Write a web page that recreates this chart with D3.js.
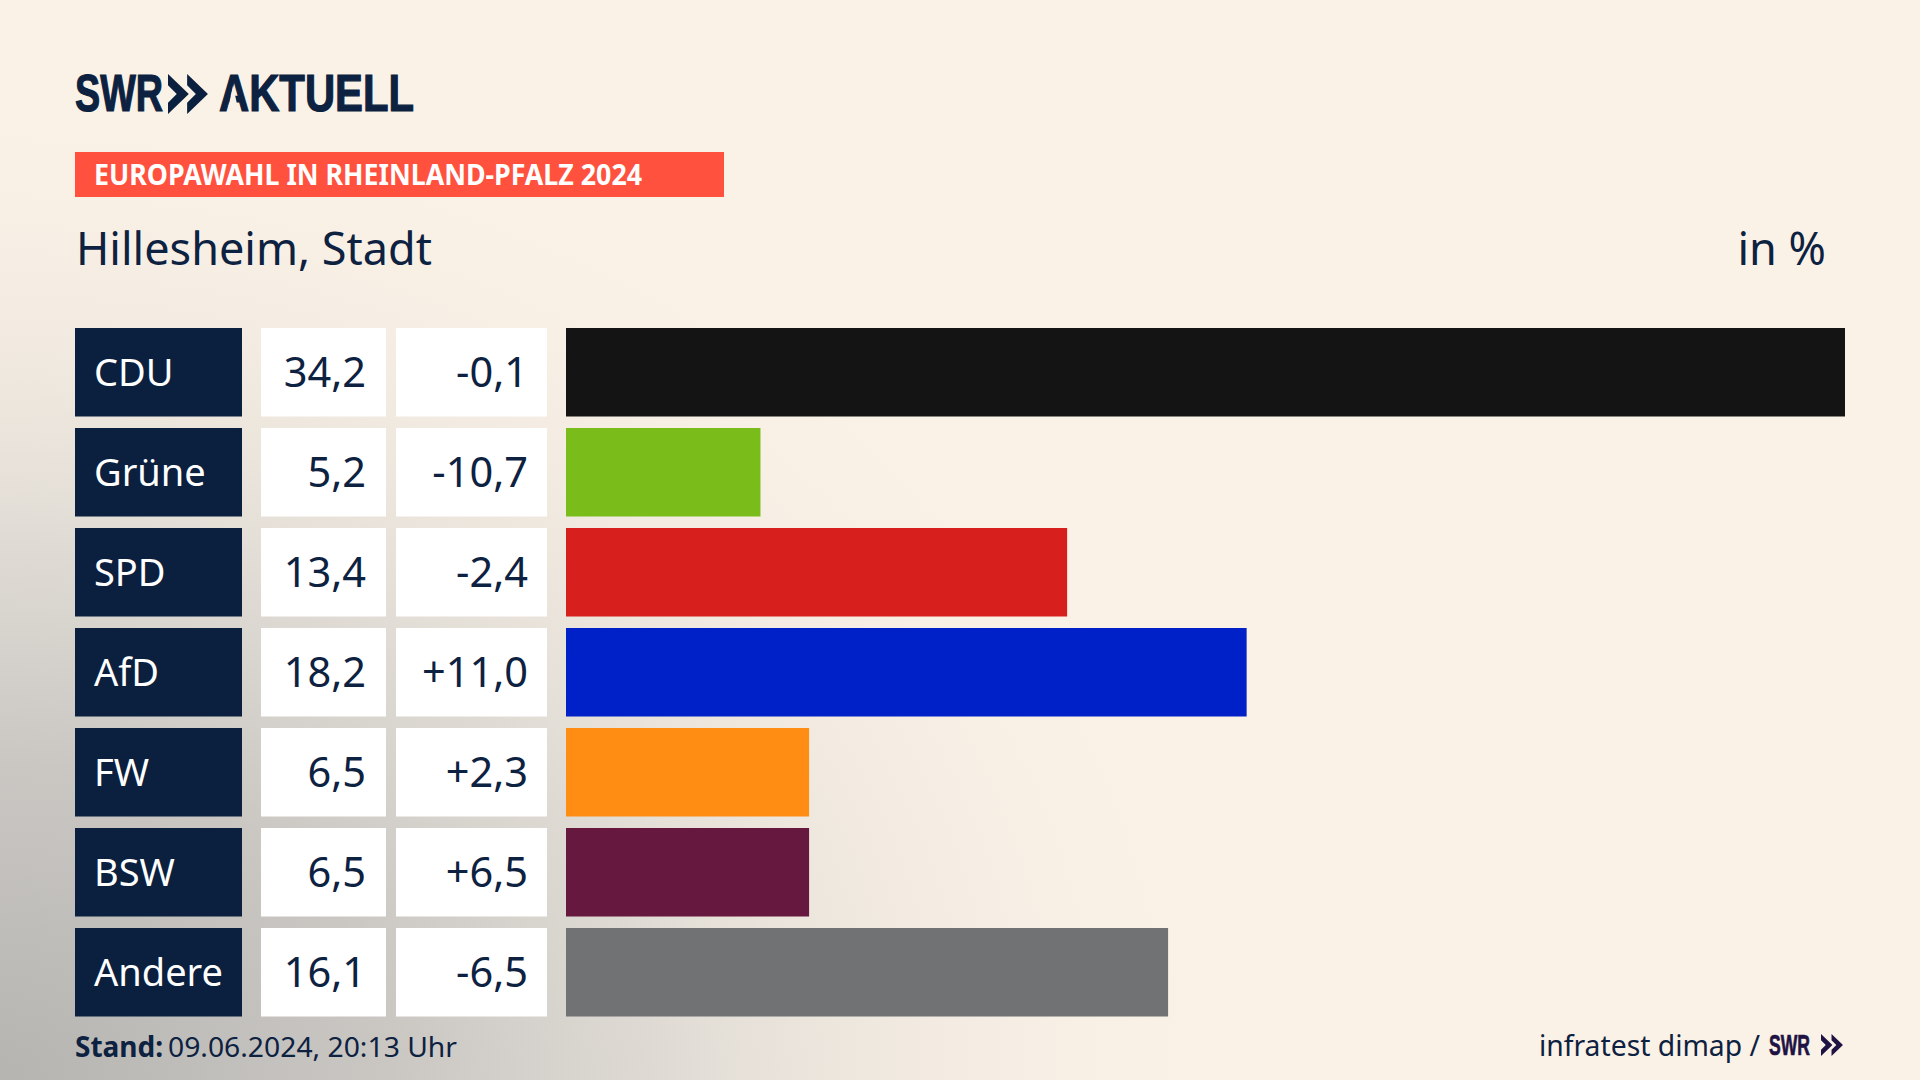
<!DOCTYPE html>
<html>
<head>
<meta charset="utf-8">
<script src="https://cdn.jsdelivr.net/npm/d3@7"></script>
<style>
  html, body { margin: 0; padding: 0; background: #fbf2e7; }
  svg { display: block; }
  text { font-family: "Noto Sans", sans-serif; fill: #0d2141; }
</style>
</head>
<body>
<svg id="chart" width="1920" height="1080"></svg>
<script>
// values
const parties = ['CDU', 'Grüne', 'SPD', 'AfD', 'FW', 'BSW', 'Andere'];
const shares = [34.2, 5.2, 13.4, 18.2, 6.5, 6.5, 16.1];
const changes = [-0.1, -10.7, -2.4, 11.0, 2.3, 6.5, -6.5];
const partyColors = ['#141414', '#7abd1a', '#d71f1d', '#0021c8', '#ff8c13', '#66183f', '#717274'];

const svg = d3.select('#chart');
const navy = '#0b1f3f';

const locale = d3.formatLocale({ decimal: ',', thousands: '.', grouping: [3], currency: ['', ' €'], minus: '-' });
const fmtShare = locale.format('.1f');
const fmtChange = locale.format('+.1f');

// background: warm beige with grey haze from the bottom left
const defs = svg.append('defs');
const haze = defs.append('radialGradient')
  .attr('id', 'haze')
  .attr('gradientUnits', 'userSpaceOnUse')
  .attr('cx', 0).attr('cy', 0).attr('r', 1)
  .attr('gradientTransform', 'translate(0,1080) scale(1300,1050)');
[[0, '#b5b4b1', 1], [0.3, '#cac7c3', 1], [0.5, '#dedad3', 1], [0.72, '#efe8df', 0.7], [1, '#fbf2e7', 0]].forEach(s => {
  haze.append('stop').attr('offset', s[0]).attr('stop-color', s[1]).attr('stop-opacity', s[2]);
});
svg.append('rect').attr('width', 1920).attr('height', 1080).attr('fill', '#fbf2e7');
svg.append('rect').attr('width', 1920).attr('height', 1080).attr('fill', 'url(#haze)');

// header
function chevrons(g, x, y, h, color) {
  const w = h * 0.52;
  [0, w * 0.92].forEach(dx => {
    g.append('path')
      .attr('d', `M${x + dx},${y} L${x + dx + w},${y + h / 2} L${x + dx},${y + h} L${x + dx},${y + h * 0.72} L${x + dx + w * 0.42},${y + h / 2} L${x + dx},${y + h * 0.28} Z`)
      .attr('fill', color);
  });
}
const logo = svg.append('g');
logo.append('text').text('SWR')
  .attr('x', 75).attr('y', 111)
  .attr('textLength', 88).attr('lengthAdjust', 'spacingAndGlyphs')
  .style('font-family', '"Liberation Sans Narrow", sans-serif')
  .style('font-weight', 700).style('font-size', '51px')
  .style('stroke', navy).style('stroke-width', '1.2px');
chevrons(logo, 168, 74, 40, navy);
logo.append('text').text('AKTUELL')
  .attr('x', 219).attr('y', 111)
  .attr('textLength', 195).attr('lengthAdjust', 'spacingAndGlyphs')
  .style('font-family', '"Liberation Sans Narrow", sans-serif')
  .style('font-weight', 700).style('font-size', '51px')
  .style('stroke', navy).style('stroke-width', '1.2px');
// the logo's A has no crossbar, open it up with the background colour
logo.append('path')
  .attr('d', 'M233,86 L239,113 L227,113 Z')
  .attr('fill', '#f9f0e6');

svg.append('rect').attr('x', 75).attr('y', 152).attr('width', 649).attr('height', 45).attr('fill', '#ff513d');
svg.append('text').text('EUROPAWAHL IN RHEINLAND-PFALZ 2024')
  .attr('x', 94).attr('y', 185)
  .attr('textLength', 548).attr('lengthAdjust', 'spacingAndGlyphs')
  .style('fill', '#fff').style('font-weight', 700).style('font-size', '29px');

svg.append('text').text('Hillesheim, Stadt')
  .attr('x', 76).attr('y', 265)
  .attr('textLength', 356).attr('lengthAdjust', 'spacingAndGlyphs')
  .style('font-size', '45px');
svg.append('text').text('in %')
  .attr('x', 1826).attr('y', 265).attr('text-anchor', 'end')
  .style('font-size', '45px');

// rows
const y = d3.scaleBand().domain(parties).range([328, 1016.5]).paddingInner(0.115).paddingOuter(0).align(0);
const x = d3.scaleLinear().domain([0, 34.2]).range([566, 1845]);
const color = d3.scaleOrdinal().domain(parties).range(partyColors);

const rows = svg.selectAll('.row')
  .data(parties.map((p, i) => ({ party: p, share: shares[i], change: changes[i] })))
  .enter().append('g')
  .attr('class', 'row')
  .attr('transform', d => `translate(0,${y(d.party)})`);

const h = y.bandwidth();
rows.append('rect').attr('x', 75).attr('width', 167).attr('height', h).attr('fill', navy);
rows.append('rect').attr('x', 261).attr('width', 125).attr('height', h).attr('fill', '#fff');
rows.append('rect').attr('x', 396).attr('width', 151).attr('height', h).attr('fill', '#fff');
rows.append('rect').attr('x', x(0)).attr('width', d => x(d.share) - x(0)).attr('height', h).attr('fill', d => color(d.party));

rows.append('text').text(d => d.party)
  .attr('x', 94).attr('y', h / 2 + 14)
  .style('fill', '#fff').style('font-size', '38px');
rows.append('text').text(d => fmtShare(d.share))
  .attr('x', 366).attr('y', h / 2 + 15).attr('text-anchor', 'end')
  .style('font-size', '41.5px');
rows.append('text').text(d => fmtChange(d.change))
  .attr('x', 528).attr('y', h / 2 + 15).attr('text-anchor', 'end')
  .style('font-size', '41.5px');

// footer
svg.append('text').text('Stand:')
  .attr('x', 75).attr('y', 1057)
  .style('font-weight', 700).style('font-size', '28px');
svg.append('text').text('09.06.2024, 20:13 Uhr')
  .attr('x', 168).attr('y', 1057)
  .attr('textLength', 289).attr('lengthAdjust', 'spacingAndGlyphs')
  .style('font-size', '28px');
svg.append('text').text('infratest dimap /')
  .attr('x', 1539).attr('y', 1056)
  .attr('textLength', 221).attr('lengthAdjust', 'spacingAndGlyphs')
  .style('font-size', '29px');
svg.append('text').text('SWR')
  .attr('x', 1769).attr('y', 1055)
  .attr('textLength', 41).attr('lengthAdjust', 'spacingAndGlyphs')
  .style('font-family', '"Liberation Sans Narrow", sans-serif')
  .style('font-weight', 700).style('font-size', '29px')
  .style('fill', '#1f1344').style('stroke', '#1f1344').style('stroke-width', '0.7px');
chevrons(svg.append('g'), 1821, 1034, 22, '#1f1344');
</script>
</body>
</html>
